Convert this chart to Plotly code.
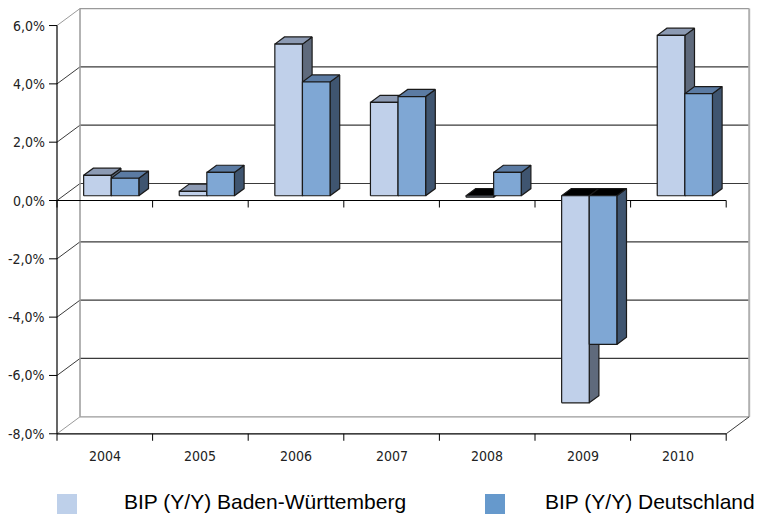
import plotly.graph_objects as go

# ---- data ----
years = ["2004", "2005", "2006", "2007", "2008", "2009", "2010"]
bip_bw = [0.7, 0.15, 5.2, 3.2, -0.05, -7.1, 5.5]
bip_de = [0.6, 0.8, 3.9, 3.4, 0.8, -5.1, 3.5]
y_ticks = [6, 4, 2, 0, -2, -4, -6, -8]
y_tick_labels = ["6,0%", "4,0%", "2,0%", "0,0%", "-2,0%", "-4,0%", "-6,0%", "-8,0%"]
series_names = ["BIP (Y/Y) Baden-Württemberg", "BIP (Y/Y) Deutschland"]

# ---- style / geometry (data units) ----
W, H = 758, 514
PX_X0, PX_PER_CAT = 57.0, 95.6
PX_Y0, PX_PER_PCT = 200.5, 29.16
DX = 23.0 / PX_PER_CAT       # depth offset of back wall (categories)
DY = 17.0 / PX_PER_PCT       # depth offset of back wall (percent)
F0, F1 = 0.28, 0.70          # bar front/back depth fraction
BW = 27.6 / PX_PER_CAT       # bar width
YMIN, YMAX = -8, 6
N = len(years)

front_cols = ["#C0D0EA", "#7FA7D4"]
top_cols = ["#8C9AB3", "#5B7BA3"]
side_cols = ["#5F6A7C", "#3F5570"]
legend_cols = ["#BED0EA", "#6699CC"]
edge = "#1a1a1a"
grid_dark = "#3a3a3a"
grid_gray = "#9a9a9a"

fig = go.Figure()

def poly(xs, ys, fill):
    fig.add_trace(go.Scatter(
        x=xs + [xs[0]], y=ys + [ys[0]], mode="lines", fill="toself",
        fillcolor=fill, line=dict(color=edge, width=1.2),
        hoverinfo="skip", showlegend=False))

ox0, oy0 = F0 * DX, F0 * DY
dx, dy = (F1 - F0) * DX, (F1 - F0) * DY

for i in range(N):
    for j, vals in enumerate([bip_bw, bip_de]):
        v = vals[i]
        xl = i + 0.5 - BW + j * BW + ox0
        xr = xl + BW
        yb = oy0 + min(0, v)
        yt = oy0 + max(0, v)
        # side face
        poly([xr, xr, xr + dx, xr + dx], [yb, yt, yt + dy, yb + dy], side_cols[j])
        # top face
        poly([xl, xr, xr + dx, xl + dx], [yt, yt, yt + dy, yt + dy],
             "#000000" if v < 0 else top_cols[j])
        # front face
        poly([xl, xr, xr, xl], [yb, yb, yt, yt], front_cols[j])

shapes = []
def line(x0, y0, x1, y1, color, width=1.0):
    shapes.append(dict(type="line", xref="x", yref="y", x0=x0, y0=y0, x1=x1, y1=y1,
                       line=dict(color=color, width=width), layer="below"))

# back wall + side wall grid
for t in y_ticks:
    c = grid_gray if t in (YMIN, YMAX) else grid_dark
    line(DX, t + DY, N + DX, t + DY, c, 1.2)
    line(0, t, DX, t + DY, c, 1.0)
    line(-8 / PX_PER_CAT, t, 0, t, "#000000", 1.0)
line(DX, YMIN + DY, DX, YMAX + DY, grid_gray, 1.5)
line(N + DX, YMIN + DY, N + DX, YMAX + DY, "#b0b0b0", 2.0)
line(N, YMIN, N + DX, YMIN + DY, grid_dark, 1.0)
# front axes
line(0, YMIN, 0, YMAX, "#000000", 1.2)
for ybase in (0, YMIN):
    line(0, ybase, N, ybase, "#000000", 1.2)
    for k in range(N + 1):
        line(k, ybase, k, ybase - 7 / PX_PER_PCT, "#000000", 1.0)

annotations = []
for t, lab in zip(y_ticks, y_tick_labels):
    annotations.append(dict(x=-10 / PX_PER_CAT, y=t, xref="x", yref="y", text=lab,
                            showarrow=False, xanchor="right", yanchor="middle",
                            font=dict(family="DejaVu Sans Condensed, DejaVu Sans", size=14, color="#222")))
for i, yr in enumerate(years):
    annotations.append(dict(x=i + 0.5, y=YMIN - 22 / PX_PER_PCT, xref="x", yref="y", text=yr,
                            showarrow=False, xanchor="center", yanchor="middle",
                            font=dict(family="DejaVu Sans Condensed, DejaVu Sans", size=14, color="#222")))

# legend
leg_swatch_x = [57, 485]
leg_text_x = [122, 543]
for k in range(2):
    shapes.append(dict(type="rect", xref="paper", yref="paper",
                       x0=leg_swatch_x[k] / W, x1=(leg_swatch_x[k] + 20) / W,
                       y0=1 - 514 / H, y1=1 - 494 / H,
                       fillcolor=legend_cols[k], line=dict(width=0)))
    annotations.append(dict(x=leg_text_x[k] / W, y=1 - 501 / H, xref="paper", yref="paper",
                            text=series_names[k], showarrow=False, xanchor="left", yanchor="middle",
                            font=dict(family="Liberation Sans, Arial", size=21, color="#000")))

fig.update_layout(
    width=W, height=H, margin=dict(l=0, r=0, t=0, b=0),
    paper_bgcolor="white", plot_bgcolor="white", showlegend=False,
    xaxis=dict(visible=False, range=[-PX_X0 / PX_PER_CAT, (W - PX_X0) / PX_PER_CAT], fixedrange=True),
    yaxis=dict(visible=False, range=[(PX_Y0 - H) / PX_PER_PCT, PX_Y0 / PX_PER_PCT], fixedrange=True),
    shapes=shapes, annotations=annotations,
)
fig.write_html("out.html", config={"displayModeBar": False},
               post_script="document.body.style.margin='0';document.body.style.overflow='hidden';")
